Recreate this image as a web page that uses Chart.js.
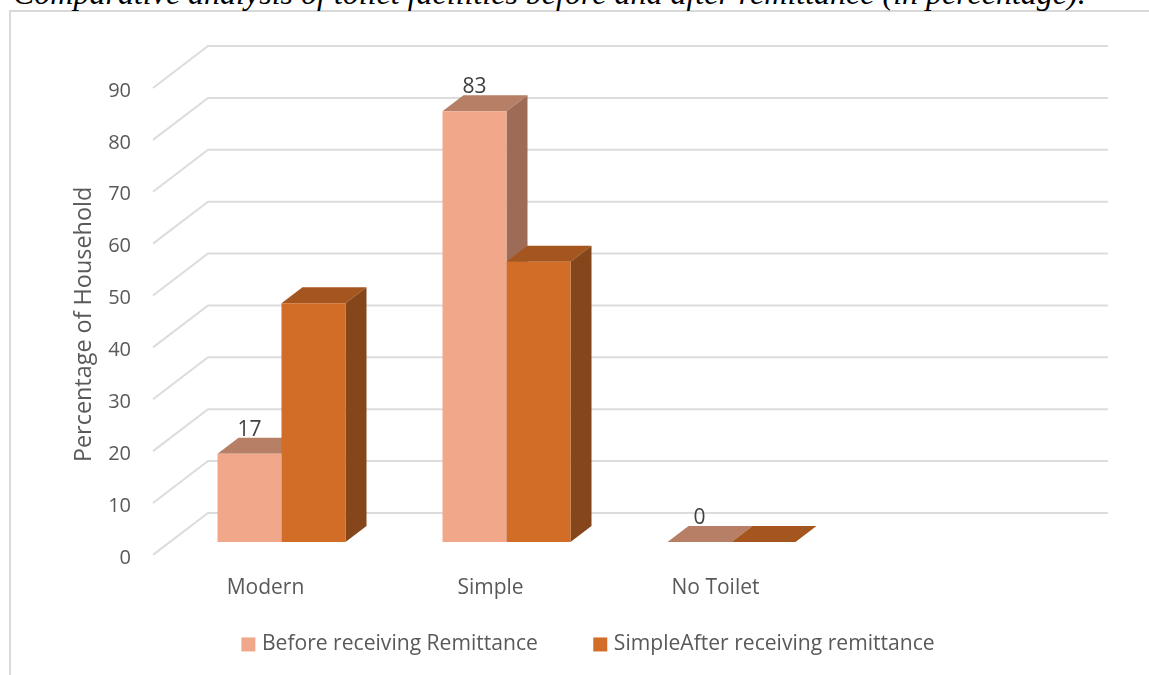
<!DOCTYPE html>
<html>
<head>
<meta charset="utf-8">
<script src="https://cdn.jsdelivr.net/npm/chart.js@4"></script>
<style>
  html, body { margin: 0; padding: 0; background: #fff; overflow: hidden; }
  #page { position: relative; width: 1149px; height: 675px; overflow: hidden; }
  #caption {
    position: absolute; left: 13px; top: -25px; white-space: nowrap;
    font: italic 32px "Liberation Serif", serif; color: #000;
  }
  #frame { position: absolute; left: 9px; top: 10px; right: -5px; bottom: -5px; border: 2px solid #d9d9d9; }
  canvas { position: absolute; left: 0; top: 0; filter: blur(0.4px); }
</style>
</head>
<body>
<div id="page">
  <div id="frame"></div>
  <div id="caption">Comparative analysis of toilet facilities before and after remittance (in percentage).</div>
  <canvas id="chart" width="1149" height="675"></canvas>
</div>
<script>
const categories = ["Modern", "Simple", "No Toilet", ""];
const beforeValues = [17, 83, 0, null];
const afterValues = [46, 54, 0, null];
const seriesNames = ["Before receiving Remittance", "SimpleAfter receiving remittance"];

const textColor = "#595959";
const fontFamily = '"Open Sans", sans-serif';
// top and side faces for each series
const faces = [
  { top: "#b77f66", side: "#9e6c56" },
  { top: "#a5561e", side: "#84461a" },
];

// the y scale runs along the tick labels, the floor lines and bars sit up from it
const gridLift = -3;
const barShift = { x: 16, y: -16 };
const barDepth = { x: 21, y: -16 };
const wallDepth = { x: 55, y: -42 };

function drawFaces(chart, index) {
  const { ctx } = chart;
  const colors = faces[index];
  chart.getDatasetMeta(index).data.forEach((bar, i) => {
    if (chart.data.datasets[index].data[i] === null) return;
    const left = bar.x - bar.width / 2;
    const right = bar.x + bar.width / 2;
    ctx.fillStyle = colors.top;
    ctx.beginPath();
    ctx.moveTo(left, bar.y);
    ctx.lineTo(left + barDepth.x, bar.y + barDepth.y);
    ctx.lineTo(right + barDepth.x, bar.y + barDepth.y);
    ctx.lineTo(right, bar.y);
    ctx.closePath();
    ctx.fill();
    ctx.fillStyle = colors.side;
    ctx.beginPath();
    ctx.moveTo(right, bar.y);
    ctx.lineTo(right + barDepth.x, bar.y + barDepth.y);
    ctx.lineTo(right + barDepth.x, bar.base + barDepth.y);
    ctx.lineTo(right, bar.base);
    ctx.closePath();
    ctx.fill();
  });
}

const fakeDepth = {
  id: "fakeDepth",
  beforeDatasetsDraw(chart) {
    const { ctx, chartArea, scales } = chart;
    ctx.save();
    ctx.strokeStyle = "#dcdcdc";
    ctx.lineWidth = 2;
    scales.y.ticks.forEach((tick) => {
      const y = scales.y.getPixelForValue(tick.value) + gridLift;
      ctx.beginPath();
      ctx.moveTo(chartArea.left, y);
      ctx.lineTo(chartArea.left + wallDepth.x, y + wallDepth.y);
      ctx.lineTo(chartArea.right + wallDepth.x, y + wallDepth.y);
      ctx.stroke();
    });
    ctx.restore();
    ctx.save();
    ctx.translate(barShift.x, barShift.y);
    // faces first, the library then paints the front of each bar over them
    drawFaces(chart, 0);
    drawFaces(chart, 1);
  },
  afterDatasetsDraw(chart) {
    const { ctx } = chart;
    // value labels, first series only
    ctx.fillStyle = "#404040";
    ctx.font = "21px " + fontFamily;
    ctx.textAlign = "center";
    ctx.textBaseline = "middle";
    chart.getDatasetMeta(0).data.forEach((bar, i) => {
      if (beforeValues[i] === null) return;
      ctx.fillText(beforeValues[i], bar.x, bar.y - 24);
    });
    ctx.restore();
  },
};

new Chart(document.getElementById("chart"), {
  type: "bar",
  data: {
    labels: categories,
    datasets: [
      { label: seriesNames[0], data: beforeValues, backgroundColor: "#f1a88a" },
      { label: seriesNames[1], data: afterValues, backgroundColor: "#d26d28" },
    ],
  },
  options: {
    responsive: false,
    animation: false,
    layout: { padding: { left: 31, top: 91, right: 0, bottom: 10 } },
    datasets: { bar: { barPercentage: 1, categoryPercentage: 0.569, borderWidth: 0 } },
    plugins: {
      legend: {
        position: "bottom",
        labels: {
          usePointStyle: true,
          pointStyle: "rect",
          boxWidth: 6,
          boxHeight: 14,
          padding: 10,
          color: textColor,
          font: { family: fontFamily, size: 21.1 },
          // nbsp tail opens the wide gap between the two entries
          generateLabels(chart) {
            const items = Chart.defaults.plugins.legend.labels.generateLabels(chart);
            items[0].text += "\u00a0".repeat(9);
            return items;
          },
        },
      },
      tooltip: { enabled: false },
    },
    scales: {
      x: {
        grid: { display: false, drawTicks: false },
        border: { display: false },
        ticks: { color: textColor, padding: 18, font: { family: fontFamily, size: 21 }, maxRotation: 0 },
        afterFit(scale) { scale.height = 66; },
      },
      y: {
        min: 0,
        max: 90,
        grid: { display: false, drawTicks: false },
        border: { display: false },
        ticks: { stepSize: 10, color: textColor, padding: 22, font: { family: fontFamily, size: 20 } },
        title: {
          display: true,
          text: "Percentage of Household",
          color: textColor,
          font: { family: fontFamily, size: 23.4 },
          padding: { top: 39, bottom: 0 },
        },
        afterFit(scale) { scale.width = 122; },
      },
      // empty axis, only keeps room right of the plot so the legend stays centred
      rightGap: {
        position: "right",
        grid: { display: false, drawTicks: false },
        border: { display: false },
        ticks: { display: false },
        afterFit(scale) { scale.width = 96; },
      },
    },
  },
  plugins: [fakeDepth],
});
</script>
</body>
</html>
